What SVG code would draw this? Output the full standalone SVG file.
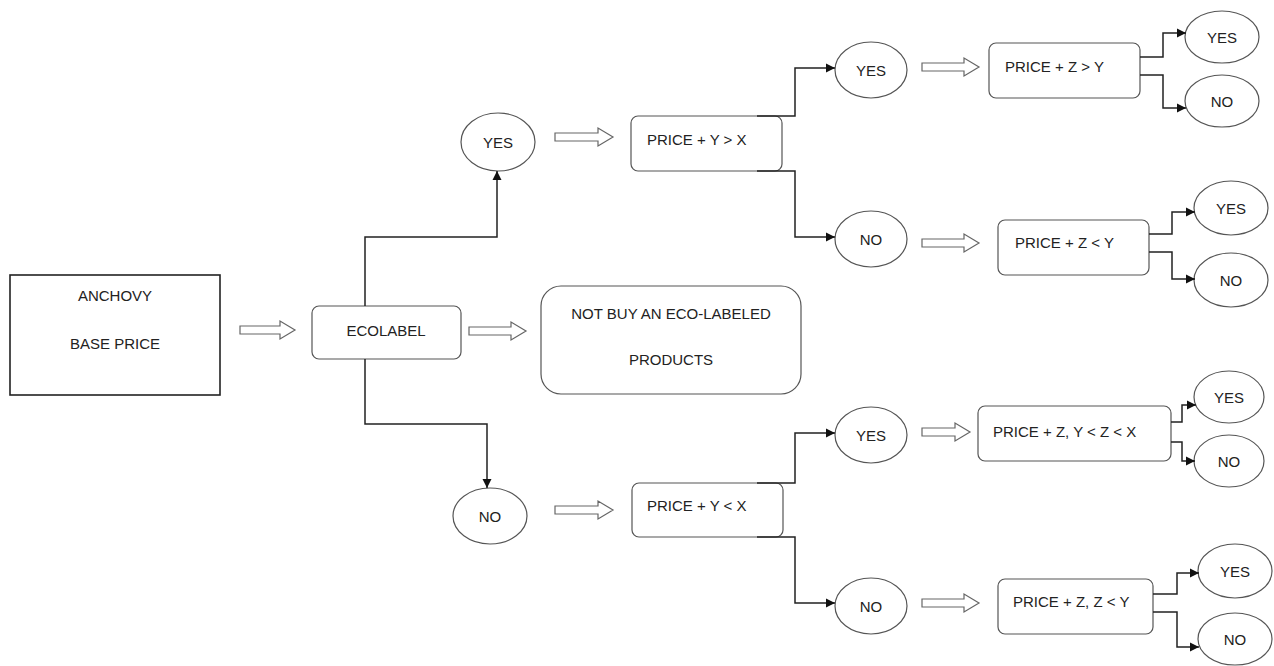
<svg xmlns="http://www.w3.org/2000/svg" width="1274" height="666" viewBox="0 0 1274 666">
<style>
text{font-family:"Liberation Sans",Arial,sans-serif;font-size:15px;fill:#222;dominant-baseline:central}
.c{text-anchor:middle}
.box{fill:#fff;stroke:#555;stroke-width:1.2}
.ell{fill:#fff;stroke:#555;stroke-width:1.2}
.conn path{fill:none;stroke:#222;stroke-width:1.5}
.blk path{fill:#fff;stroke:#666;stroke-width:1.2}
</style>
<defs>
<marker id="ah" markerUnits="userSpaceOnUse" markerWidth="10" markerHeight="10" refX="9" refY="5" orient="auto">
<path d="M0,0.5 L9,5 L0,9.5 Z" fill="#111"/>
</marker>
</defs>
<rect width="1274" height="666" fill="#fff"/>

<g id="anchovy"><rect x="10" y="275" width="210" height="120" fill="#fff" stroke="#222" stroke-width="1.6"/>
<text class="c" x="115" y="295">ANCHOVY</text><text class="c" x="115" y="343">BASE PRICE</text></g>

<g id="ecolabel"><rect class="box" x="312" y="306" width="149" height="53" rx="7"/><text class="c" x="386" y="330">ECOLABEL</text></g>

<g id="notbuy"><rect class="box" x="541" y="286" width="260" height="108" rx="20"/>
<text class="c" x="671" y="313">NOT BUY AN ECO-LABELED</text><text class="c" x="671" y="359">PRODUCTS</text></g>

<g id="yes1"><ellipse class="ell" cx="498" cy="142" rx="37" ry="29"/><text class="c" x="498" y="142">YES</text></g>
<g id="no1"><ellipse class="ell" cx="490" cy="516" rx="37" ry="28"/><text class="c" x="490" y="516">NO</text></g>

<g id="q1"><rect class="box" x="631" y="116" width="151" height="55" rx="7"/><text x="647" y="139">PRICE + Y &gt; X</text></g>
<g id="q2"><rect class="box" x="632" y="483" width="151" height="54" rx="7"/><text x="647" y="505">PRICE + Y &lt; X</text></g>

<g id="yes2"><ellipse class="ell" cx="871" cy="70" rx="36" ry="28"/><text class="c" x="871" y="70">YES</text></g>
<g id="no2"><ellipse class="ell" cx="871" cy="239" rx="36" ry="28"/><text class="c" x="871" y="239">NO</text></g>
<g id="yes3"><ellipse class="ell" cx="871" cy="435" rx="36" ry="28"/><text class="c" x="871" y="435">YES</text></g>
<g id="no3"><ellipse class="ell" cx="871" cy="606" rx="36" ry="28"/><text class="c" x="871" y="606">NO</text></g>

<g id="q3"><rect class="box" x="989" y="43" width="151" height="55" rx="7"/><text x="1005" y="66">PRICE + Z &gt; Y</text></g>
<g id="q4"><rect class="box" x="998" y="220" width="151" height="55" rx="7"/><text x="1015" y="242">PRICE + Z &lt; Y</text></g>
<g id="q5"><rect class="box" x="978" y="406" width="193" height="55" rx="7"/><text x="993" y="431">PRICE + Z, Y &lt; Z &lt; X</text></g>
<g id="q6"><rect class="box" x="998" y="579" width="155" height="55" rx="7"/><text x="1013" y="601">PRICE + Z, Z &lt; Y</text></g>

<g id="r1y"><ellipse class="ell" cx="1222" cy="37" rx="37" ry="26"/><text class="c" x="1222" y="37">YES</text></g>
<g id="r1n"><ellipse class="ell" cx="1222" cy="101" rx="37" ry="26"/><text class="c" x="1222" y="101">NO</text></g>
<g id="r2y"><ellipse class="ell" cx="1231" cy="208" rx="37" ry="27"/><text class="c" x="1231" y="208">YES</text></g>
<g id="r2n"><ellipse class="ell" cx="1231" cy="280" rx="37" ry="27"/><text class="c" x="1231" y="280">NO</text></g>
<g id="r3y"><ellipse class="ell" cx="1229" cy="397" rx="35" ry="26"/><text class="c" x="1229" y="397">YES</text></g>
<g id="r3n"><ellipse class="ell" cx="1229" cy="461" rx="35" ry="26"/><text class="c" x="1229" y="461">NO</text></g>
<g id="r4y"><ellipse class="ell" cx="1235" cy="571" rx="37" ry="27"/><text class="c" x="1235" y="571">YES</text></g>
<g id="r4n"><ellipse class="ell" cx="1235" cy="639" rx="37" ry="26"/><text class="c" x="1235" y="639">NO</text></g>

<g id="blockarrows" class="blk">
<path d="M240,326 H280 V321 L295,330 L280,339 V334 H240 Z"/>
<path d="M469,327 H511 V322 L526,331 L511,340 V335 H469 Z"/>
<path d="M555,133 H598 V128 L613,137 L598,146 V141 H555 Z"/>
<path d="M922,63 H964 V58 L979,67 L964,76 V71 H922 Z"/>
<path d="M922,239 H964 V234 L979,243 L964,252 V247 H922 Z"/>
<path d="M555,506 H598 V501 L613,510 L598,519 V514 H555 Z"/>
<path d="M922,428 H955 V423 L970,432 L955,441 V436 H922 Z"/>
<path d="M922,599 H964 V594 L979,603 L964,612 V607 H922 Z"/>
</g>

<g id="connectors" class="conn">
<path d="M365,306 V237 H497 V171" marker-end="url(#ah)"/>
<path d="M365,359 V424 H487 V488" marker-end="url(#ah)"/>
<path d="M757,116 H795 V68 H835" marker-end="url(#ah)"/>
<path d="M757,171 H795 V237 H835" marker-end="url(#ah)"/>
<path d="M757,483 H795 V433 H835" marker-end="url(#ah)"/>
<path d="M757,537 H795 V603 H835" marker-end="url(#ah)"/>
<path d="M1140,57 H1163 V33 H1186" marker-end="url(#ah)"/>
<path d="M1140,75 H1163 V108 H1186" marker-end="url(#ah)"/>
<path d="M1149,234 H1172 V212 H1195" marker-end="url(#ah)"/>
<path d="M1149,252 H1172 V279 H1195" marker-end="url(#ah)"/>
<path d="M1171,422 H1182 V405 H1196" marker-end="url(#ah)"/>
<path d="M1171,442 H1182 V461 H1195" marker-end="url(#ah)"/>
<path d="M1153,594 H1177 V573 H1199" marker-end="url(#ah)"/>
<path d="M1153,612 H1177 V647 H1199" marker-end="url(#ah)"/>
</g>
</svg>
